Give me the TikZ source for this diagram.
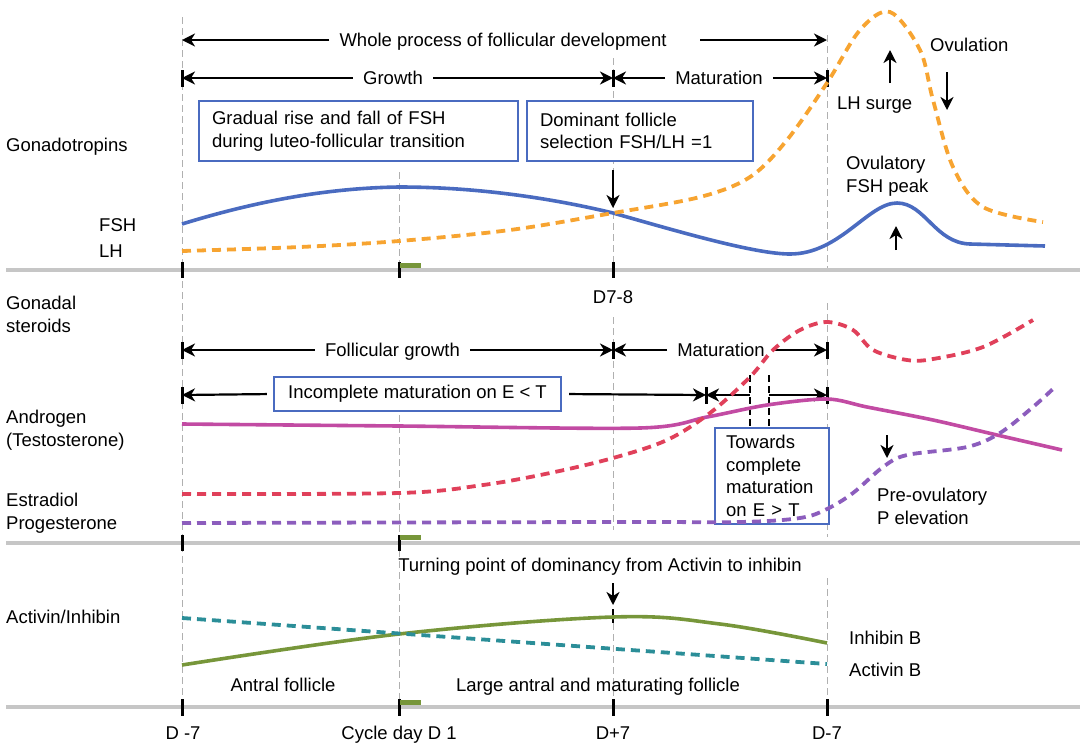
\documentclass[tikz,border=0pt]{standalone}
\usepackage{fontspec}
\setmainfont{Liberation Sans}
\usetikzlibrary{arrows.meta}

\definecolor{fshblue}{HTML}{4A6BC0}
\definecolor{lhorange}{HTML}{F7A431}
\definecolor{androgen}{HTML}{C24BA3}
\definecolor{estradiol}{HTML}{E0405A}
\definecolor{progest}{HTML}{8C5DBD}
\definecolor{inhibin}{HTML}{77963A}
\definecolor{activin}{HTML}{2B8E98}
\definecolor{sepgray}{HTML}{C6C6C6}
\definecolor{guidegray}{HTML}{B0B0B0}

\tikzset{
  txt/.style={font=\fontsize{18.5}{22.5}\selectfont, inner sep=0pt},
  lbl/.style={txt, text height=13.4pt, text depth=0pt},
  spanlbl/.style={lbl, inner xsep=10pt},
  span/.style={-{Stealth[length=13pt,width=13pt,inset=4pt]}, line width=2.2pt},
  pointer/.style={-{Stealth[length=13pt,width=13pt,inset=4pt]}, line width=2.2pt},
  endbar/.style={line width=3pt},
  guide/.style={guidegray, line width=1pt, dash pattern=on 7pt off 4pt},
  blackdash/.style={line width=2.2pt, dash pattern=on 7pt off 4pt},
  sep/.style={sepgray, line width=4.5pt},
  greenmark/.style={inhibin, line width=5pt},
  infobox/.style={txt, draw=fshblue, line width=2.2pt, fill=white, inner xsep=13pt, align=left},
  solidcurve/.style={line width=3.6pt},
  dashcurve/.style={line width=3.8pt, dash pattern=on 9pt off 6pt},
}

\begin{document}
\begin{tikzpicture}[x=1pt, y=-1pt]
\useasboundingbox (0,0) rectangle (1080,748);

% panel separators
\draw[sep] (6,270) -- (1080,270);
\draw[sep] (6,543) -- (1080,543);
\draw[sep] (6,707) -- (1080,707);

% day guides
\draw[guide] (182,17) -- (182,700);
\draw[guide] (399,172) -- (399,262);
\draw[guide] (399,415) -- (399,535);
\draw[guide] (399,550) -- (399,700);
\draw[guide] (613,58) -- (613,262);
\draw[guide] (613,317) -- (613,530);
\draw[guide] (613,623) -- (613,700);
\draw[guide] (827,35) -- (827,268);
\draw[guide] (827,303) -- (827,537);
\draw[guide] (827,578) -- (827,700);

% ticks on the separators
\draw[endbar] (182,262) -- (182,278);
\draw[endbar] (399,262) -- (399,278);
\draw[endbar] (613,262) -- (613,278);
\draw[endbar] (182,535) -- (182,551);
\draw[endbar] (399,535) -- (399,551);
\draw[endbar] (182,699) -- (182,716);
\draw[endbar] (399,699) -- (399,716);
\draw[endbar] (613,699) -- (613,716);
\draw[endbar] (827,699) -- (827,716);
\draw[greenmark] (400,265.5) -- (421,265.5);
\draw[greenmark] (400,537.5) -- (421,537.5);
\draw[greenmark] (400,702) -- (421,702);

% left column
\node[lbl, anchor=west] (gonadotropins) at (6,145) {Gonadotropins};
\node[lbl, anchor=west] (fshlbl) at (99,225) {FSH};
\node[lbl, anchor=west] (lhlbl) at (99,251) {LH};
\node[txt, anchor=north west, align=left] (gonadal) at (6,296.1) {Gonadal\\steroids};
\node[txt, anchor=north west, align=left] (androlbl) at (6,410.1) {Androgen\\(Testosterone)};
\node[lbl, anchor=west] (estrlbl) at (6,500) {Estradiol};
\node[lbl, anchor=west] (proglbl) at (6,523) {Progesterone};
\node[lbl, anchor=west] (actinh) at (6,617) {Activin/Inhibin};

% gonadotropins panel
\node[spanlbl] (whole) at (503,40) {Whole process of follicular development};
\coordinate (wholeL) at (182,40);
\coordinate (wholeGap) at (700,40);
\coordinate (wholeR) at (827,40);
\draw[span] (whole) -- (wholeL);
\draw[span] (wholeGap) -- (wholeR);

\draw[endbar] (182,70) -- (182,87);
\draw[endbar] (613,70) -- (613,87);
\draw[endbar] (827,70) -- (827,87);
\node[spanlbl] (growth) at (393,78) {Growth};
\node[spanlbl] (maturA) at (719,78) {Maturation};
\coordinate (grow0) at (182,78);
\coordinate (grow1) at (613,78);
\coordinate (grow2) at (827,78);
\draw[span] (growth) -- (grow0);
\draw[span] (growth) -- (grow1);
\draw[span] (maturA) -- (grow1);
\draw[span] (maturA) -- (grow2);

\node[infobox, anchor=north west, text width=293pt, minimum height=60pt] (fshbox) at (198,100)
  {Gradual rise and fall of FSH\\during luteo-follicular transition};
\node[infobox, anchor=north west, text width=200pt, minimum height=60pt] (selbox) at (526,100)
  {Dominant follicle\\selection FSH/LH =1};

\draw[fshblue, solidcurve] (182,224) .. controls (260,200) and (330,188) .. (399,187)
  .. controls (480,187) and (555,199) .. (613,213)
  .. controls (680,232) and (755,254) .. (790,254)
  .. controls (840,254) and (868,203) .. (897,203)
  .. controls (925,203) and (935,243) .. (970,244) -- (1045,246);
\draw[lhorange, dashcurve] plot[smooth, tension=0.55] coordinates {(182,251) (300,247) (399,241) (510,230) (613,213) (700,197) (750,177) (787,140) (827,83) (860,30) (890,12) (920,50) (933,100) (953,167) (983,207) (1043,222)};

\coordinate (selTail) at (613,170);
\coordinate (selTip) at (613,208);
\draw[pointer] (selTail) -- (selTip);
\node[lbl, anchor=west] (ovulation) at (930,45) {Ovulation};
\coordinate (ovuTail) at (947,72);
\coordinate (ovuTip) at (947,110);
\draw[pointer] (ovuTail) -- (ovuTip);
\node[lbl, anchor=west] (lhsurge) at (837,103) {LH surge};
\coordinate (surgeTail) at (890,83);
\coordinate (surgeTip) at (890,50);
\draw[pointer] (surgeTail) -- (surgeTip);
\node[txt, anchor=north west, align=left] (fshpeak) at (846,156.1) {Ovulatory\\FSH peak};
\coordinate (peakTail) at (896,250);
\coordinate (peakTip) at (896,226);
\draw[pointer] (peakTail) -- (peakTip);

% gonadal steroids panel
\node[lbl] (d78) at (613,297) {D7-8};
\draw[endbar] (182,342) -- (182,359);
\draw[endbar] (613,342) -- (613,359);
\draw[endbar] (827,342) -- (827,359);
\node[spanlbl] (follgrowth) at (392.5,350) {Follicular growth};
\node[spanlbl] (maturB) at (721,350) {Maturation};
\coordinate (fg0) at (182,350);
\coordinate (fg1) at (613,350);
\coordinate (fg2) at (827,350);
\draw[span] (follgrowth) -- (fg0);
\draw[span] (follgrowth) -- (fg1);
\draw[span] (maturB) -- (fg1);
\draw[span] (maturB) -- (fg2);

\draw[endbar] (182,387) -- (182,404);
\draw[endbar] (706,387) -- (706,404);
\draw[endbar] (827,387) -- (827,404);
\node[infobox, align=center, minimum width=287pt, minimum height=34pt] (incbox) at (417.5,394) {Incomplete maturation on E < T};
\coordinate (inc0) at (182,395);
\coordinate (inc1) at (706,395);
\coordinate (incDashL) at (750,395);
\coordinate (incDashR) at (769,395);
\coordinate (inc2) at (827,395);
\draw[span, shorten <=6pt] (incbox.west) -- (inc0);
\draw[span, shorten <=7pt] (incbox.east) -- (inc1);
\draw[span] (incDashL) -- (inc1);
\draw[span] (incDashR) -- (inc2);
\draw[blackdash] (750,375) -- (750,427);
\draw[blackdash] (769,375) -- (769,427);

\node[infobox, anchor=north west, text width=92pt, minimum height=96pt, inner xsep=11pt] (towbox) at (714,427)
  {Towards\\complete\\maturation\\on E > T};

\draw[androgen, solidcurve] plot[smooth, tension=0.5] coordinates {(182,424) (399,426) (640,428) (707,417) (767,405) (827,399) (867,407) (933,420) (997,435) (1062,450)};
\draw[estradiol, dashcurve] plot[smooth, tension=0.55] coordinates {(182,494) (399,493) (483,485) (550,473) (613,458) (667,440) (710,413) (750,377) (773,350) (800,330) (827,322) (853,330) (873,350) (907,360) (933,359) (983,347) (1033,320)};
\draw[progest, dashcurve] plot[smooth, tension=0.55] coordinates {(182,523) (613,522) (740,522) (800,518) (827,509) (853,493) (883,467) (907,455) (967,447) (1000,433) (1033,407) (1055,387)};

\coordinate (pelevTail) at (887,435);
\coordinate (pelevTip) at (887,458);
\draw[pointer] (pelevTail) -- (pelevTip);
\node[txt, anchor=north west, align=left] (pelev) at (877,488.1) {Pre-ovulatory\\P elevation};

% activin / inhibin panel
\node[lbl] (turning) at (600,565) {Turning point of dominancy from Activin to inhibin};
\coordinate (turnTail) at (613,583);
\coordinate (turnTip) at (613,605);
\draw[pointer] (turnTail) -- (turnTip);
\draw[line width=1.8pt] (613,609) -- (613,623);

\draw[inhibin, solidcurve] plot[smooth, tension=0.6] coordinates {(182,665) (399,634) (613,617) (720,624) (827,643)};
\draw[activin, dashcurve] (182,618) -- (827,664);
\node[lbl, anchor=west] (inhlbl) at (849,638) {Inhibin B};
\node[lbl, anchor=west] (actlbl) at (849,670) {Activin B};
\node[lbl] (antral) at (283,685) {Antral follicle};
\node[lbl] (largeantral) at (598,685) {Large antral and maturating follicle};

% day labels
\node[lbl] (dminus) at (183,733) {D -7};
\node[lbl] (dcycle) at (399,733) {Cycle day D 1};
\node[lbl] (dplus) at (613,733) {D+7};
\node[lbl] (dnext) at (827,733) {D-7};
\end{tikzpicture}
\end{document}
